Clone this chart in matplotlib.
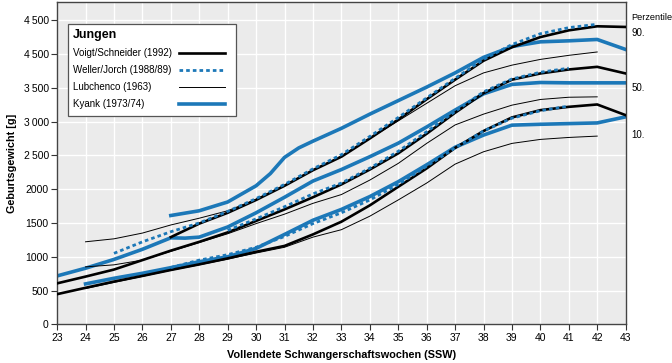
import matplotlib
matplotlib.use("Agg")
import matplotlib.pyplot as plt
from matplotlib.patches import Rectangle
from matplotlib.lines import Line2D

plt.rcParams['font.family'] = ['Liberation Sans', 'DejaVu Sans']

# #############################################################################
# data (g per completed week)
voigt_weeks = list(range(23, 44))
voigt_p10 = [446, 540, 632, 716, 804, 887, 975, 1073, 1160, 1330, 1518, 1760, 2035,
             2307, 2610, 2860, 3061, 3169, 3218, 3253, 3095]
voigt_p50 = [606, 706, 810, 950, 1090, 1220, 1360, 1530, 1700, 1880, 2070, 2290, 2530,
             2820, 3130, 3420, 3620, 3712, 3771, 3810, 3712]
voigt_p90_weeks = list(range(27, 44))
voigt_p90 = [1290, 1490, 1650, 1840, 2050, 2280, 2480, 2750, 3030, 3330, 3620, 3900,
             4100, 4250, 4350, 4410, 4400]

weller_p10_weeks = list(range(27, 42))
weller_p10 = [840, 950, 1030, 1140, 1300, 1490, 1650, 1840, 2070, 2340, 2610, 2860,
              3050, 3160, 3230]
weller_p50_weeks = list(range(29, 42))
weller_p50 = [1390, 1560, 1740, 1930, 2090, 2310, 2560, 2850, 3150, 3440, 3630, 3730, 3790]
weller_p90_weeks = list(range(25, 43))
weller_p90 = [1050, 1220, 1370, 1500, 1670, 1860, 2070, 2300, 2510, 2780, 3060, 3350,
              3640, 3920, 4140, 4300, 4390, 4440]

lub_weeks = list(range(24, 43))
lub_p10 = [530, 620, 710, 800, 880, 965, 1055, 1140, 1290, 1400, 1600, 1840, 2090,
           2370, 2553, 2677, 2736, 2765, 2785]
lub_p50 = [850, 880, 950, 1080, 1210, 1340, 1490, 1630, 1790, 1920, 2134, 2381, 2677,
           2950, 3110, 3243, 3327, 3360, 3366]
lub_p90 = [1221, 1265, 1350, 1470, 1570, 1680, 1850, 2050, 2280, 2490, 2750, 3010,
           3270, 3530, 3720, 3835, 3920, 3980, 4030]

kyank_p10_weeks = list(range(24, 44))
kyank_p10 = [598, 681, 755, 838, 926, 1000, 1123, 1330, 1540, 1700, 1890, 2110, 2360,
             2620, 2800, 2947, 2960, 2970, 2980, 3070]
kyank_p50_weeks = [23, 24, 25, 26, 27, 27.5, 28, 29, 30, 31, 32, 33, 34, 35, 36, 37,
                   38, 39, 40, 41, 42, 43]
kyank_p50 = [716, 830, 960, 1110, 1280, 1275, 1290, 1440, 1650, 1880, 2120, 2290, 2480,
             2680, 2920, 3170, 3410, 3550, 3578, 3573, 3573, 3573]
kyank_p90_weeks = [27, 28, 29, 30, 30.5, 31, 31.5, 32, 33, 34, 35, 36, 37, 38, 39, 40,
                   41, 42, 43]
kyank_p90 = [1610, 1680, 1810, 2050, 2230, 2470, 2610, 2710, 2900, 3110, 3310, 3510,
             3720, 3950, 4110, 4180, 4195, 4215, 4067]

y_ticks = [0, 500, 1000, 1500, 2000, 2500, 3000, 3500, 4000, 4500]
y_labels = ['0', '500', '1000', '1500', '2000', '2\u2009500', '3\u2009000', '3\u2009500',
            '4\u2009500', '4\u2009500']
perz_labels = ['90.', '50.', '10.']
legend_labels = ['Voigt/Schneider (1992)', 'Weller/Jorch (1988/89)', 'Lubchenco (1963)',
                 'Kyank (1973/74)']

blue = '#1c78b8'
dots = (0, (1.3, 1.1))
styles = [dict(color='black', lw=1.9),
          dict(color=blue, lw=2.0, ls=dots),
          dict(color='black', lw=0.7),
          dict(color=blue, lw=2.6)]

fig = plt.figure(figsize=(6.72, 3.63), dpi=100)
ax = fig.add_axes([0.085, 0.1066, 0.846, 0.888])
ax.set_facecolor('#ebebeb')

# Kyank
for w, v in ((kyank_p10_weeks, kyank_p10), (kyank_p50_weeks, kyank_p50),
             (kyank_p90_weeks, kyank_p90)):
    ax.plot(w, v, zorder=2, **styles[3])
# Lubchenco
for vals in (lub_p10, lub_p50, lub_p90):
    ax.plot(lub_weeks, vals, zorder=3, **styles[2])
# Voigt/Schneider
for w, v in ((voigt_weeks, voigt_p10), (voigt_weeks, voigt_p50),
             (voigt_p90_weeks, voigt_p90)):
    ax.plot(w, v, zorder=4, **styles[0])
# Weller/Jorch
for w, v in ((weller_p10_weeks, weller_p10), (weller_p50_weeks, weller_p50),
             (weller_p90_weeks, weller_p90)):
    ax.plot(w, v, zorder=5, **styles[1])

ax.set_xlim(23, 43)
ax.set_ylim(0, 4770)
ax.set_xticks(range(23, 44))
ax.set_yticks(y_ticks)
ax.set_yticklabels(y_labels)
ax.grid(True, color='white', lw=1.0)
ax.set_axisbelow(True)
ax.tick_params(labelsize=7.5, length=4, color='#333333', pad=2)
for s in ax.spines.values():
    s.set_color('#444444')
    s.set_linewidth(1.0)

ax.set_xlabel('Vollendete Schwangerschaftswochen (SSW)', fontsize=7.8, fontweight='bold',
              labelpad=5)
ax.set_ylabel('Geburtsgewicht [g]', fontsize=7.8, fontweight='bold', labelpad=5)

# percentile labels on the right
ax.text(43.2, 4545, 'Perzentile', fontsize=6.6, va='center', ha='left', clip_on=False)
for lab, yv in zip(perz_labels, [4310, 3500, 2800]):
    ax.text(43.2, yv, lab, fontsize=7, va='center', ha='left', clip_on=False)

# legend box, labels left, line samples right
ax.add_patch(Rectangle((0.0193, 0.647), 0.296, 0.285, transform=ax.transAxes,
                       facecolor='white', edgecolor='#555555', lw=0.9, zorder=10))
ax.text(0.028, 0.898, 'Jungen', transform=ax.transAxes, fontsize=9, fontweight='bold',
        va='center', ha='left', zorder=11)
for i, (lab, st) in enumerate(zip(legend_labels, styles)):
    yy = 0.841 - i * 0.0527
    ax.text(0.028, yy, lab, transform=ax.transAxes, fontsize=7, va='center', ha='left',
            zorder=11)
    ax.add_line(Line2D([0.2145, 0.2954], [yy, yy], transform=ax.transAxes, zorder=11,
                       **st))

fig.savefig('out.png', dpi=100)
